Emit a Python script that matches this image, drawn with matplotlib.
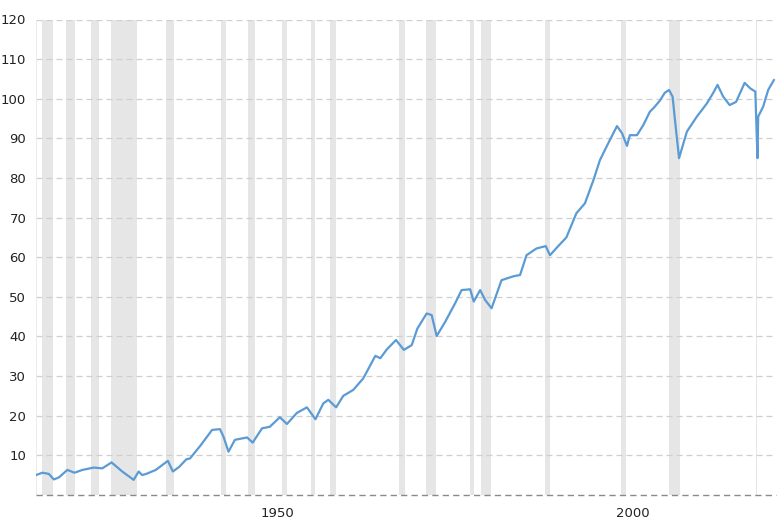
import matplotlib
matplotlib.use('Agg')
import matplotlib.pyplot as plt

# Industrial production index
years = [1919.1, 1920.0, 1920.9, 1921.6, 1922.3, 1923.5, 1924.5, 1925.6, 1927.2, 1928.4,
         1929.7, 1931.2, 1932.8, 1933.5, 1934.0, 1934.7, 1935.9, 1937.6, 1938.3, 1939.2,
         1940.2, 1940.7, 1942.1, 1943.8, 1944.9, 1945.4, 1946.1, 1947.0, 1948.7, 1949.5,
         1950.8, 1951.9, 1953.3, 1954.3, 1955.7, 1957.1, 1958.3, 1959.4, 1960.1, 1961.2,
         1962.2, 1963.6, 1965.0, 1966.7, 1967.4, 1968.3, 1969.6, 1970.7, 1971.8, 1972.6,
         1973.9, 1974.6, 1975.3, 1976.5, 1977.9, 1978.8, 1980.0, 1980.5, 1981.4, 1982.1,
         1983.0, 1984.4, 1986.1, 1987.0, 1987.9, 1989.3, 1990.6, 1991.2, 1992.2, 1993.5,
         1994.9, 1996.1, 1997.3, 1998.2, 1999.6, 2000.6, 2001.3, 2002.0, 2002.4, 2003.4,
         2004.3, 2005.2, 2005.9, 2006.6, 2007.3, 2007.9, 2008.4, 2008.7, 2009.3, 2010.4,
         2011.8, 2013.2, 2014.1, 2014.7, 2015.5, 2016.4, 2017.3, 2018.5, 2019.3, 2020.0,
         2020.3, 2020.4, 2021.1, 2021.8, 2022.6]
values = [5.0, 5.6, 5.3, 3.9, 4.4, 6.3, 5.6, 6.3, 6.9, 6.7,
          8.2, 5.9, 3.8, 5.9, 5.0, 5.4, 6.3, 8.6, 5.9, 7.1,
          9.0, 9.2, 12.3, 16.4, 16.6, 14.7, 10.9, 13.9, 14.5, 13.2,
          16.8, 17.2, 19.6, 17.9, 20.7, 22.1, 19.1, 23.1, 24.0, 22.1,
          25.0, 26.5, 29.4, 35.1, 34.5, 36.7, 39.1, 36.6, 37.8, 42.0,
          45.8, 45.4, 40.1, 43.7, 48.4, 51.7, 51.9, 48.8, 51.7, 49.2,
          47.1, 54.2, 55.2, 55.5, 60.5, 62.2, 62.8, 60.5, 62.5, 65.0,
          71.1, 73.6, 79.5, 84.5, 89.6, 93.1, 91.3, 88.1, 90.8, 90.8,
          93.4, 96.7, 98.0, 99.5, 101.5, 102.2, 100.5, 95.1, 85.0, 91.7,
          95.5, 98.8, 101.5, 103.5, 100.5, 98.4, 99.2, 104.0, 102.6, 101.8,
          85.0, 95.5, 98.0, 102.2, 104.7]

# NBER recessions (start, end)
recessions = [(1920.0, 1921.54), (1923.37, 1924.54), (1926.79, 1927.87), (1929.62, 1933.21),
              (1937.37, 1938.46), (1945.12, 1945.79), (1948.87, 1949.79), (1953.54, 1954.37),
              (1957.62, 1958.29), (1960.29, 1961.12), (1969.96, 1970.87), (1973.87, 1975.21),
              (1980.04, 1980.54), (1981.54, 1982.87), (1990.54, 1991.21), (2001.21, 2001.87),
              (2007.96, 2009.46), (2020.12, 2020.29)]

y_ticks = list(range(10, 121, 10))
x_tick_pos = [1952.9, 2002.8]
x_tick_labels = ['1950', '2000']

fig = plt.figure(figsize=(7.83, 5.29), dpi=100)
fig.patch.set_facecolor('white')
ax = fig.add_axes([36 / 783, 1 - 494.9 / 529, 740 / 783, 475.4 / 529])

# recession shading
for start, end in recessions:
    ax.axvspan(start, end, color='#e6e6e6', lw=0, zorder=0)

# dashed horizontal grid + dashed baseline
for t in y_ticks:
    ax.axhline(t, color='#cfcfcf', lw=0.9, dashes=(4.8, 3.2), zorder=1)
ax.axhline(0, color='#8a8a8a', lw=1.0, dashes=(4.5, 3.0), zorder=3, clip_on=False)
ax.axvline(1919.1, color='#e8e8e8', lw=1.2, zorder=1)

ax.plot(years, values, color='#5b9bd5', lw=1.6, zorder=4)

ax.set_xlim(1919.1, 2022.9)
ax.set_ylim(0, 120)
ax.set_yticks(y_ticks)
ax.set_yticklabels([str(t) for t in y_ticks], fontsize=9.5, color='#222222')
ax.set_xticks(x_tick_pos)
ax.set_xticklabels(x_tick_labels, fontsize=9.5, color='#222222')
ax.tick_params(axis='both', length=0)
ax.tick_params(axis='y', pad=7)
ax.tick_params(axis='x', pad=9)
for s in ax.spines.values():
    s.set_visible(False)

plt.savefig('out.png', dpi=100, facecolor='white')
